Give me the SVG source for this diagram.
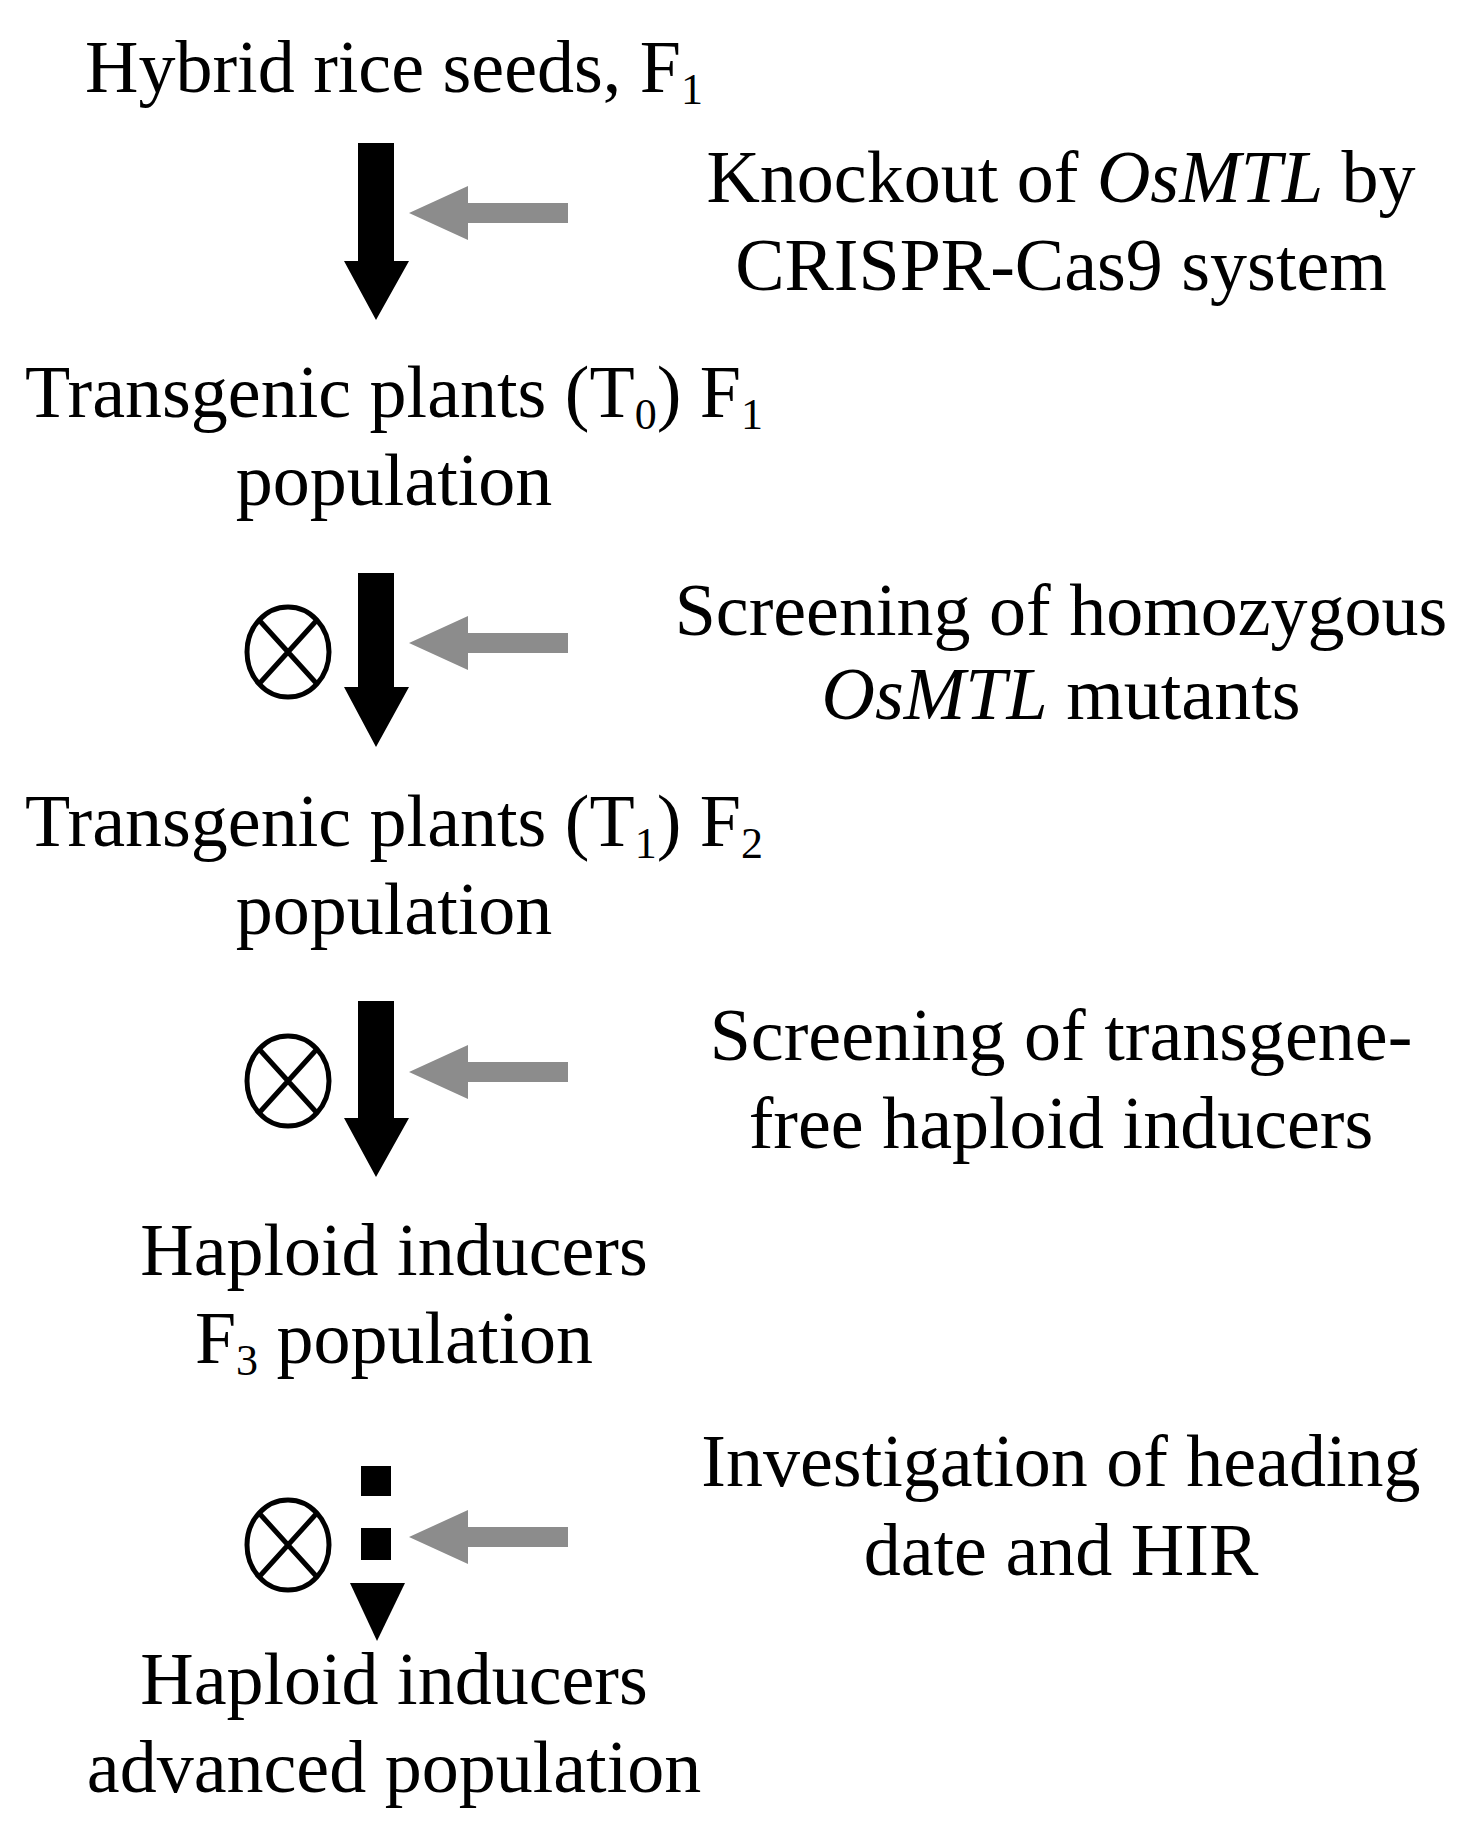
<svg xmlns="http://www.w3.org/2000/svg" width="1463" height="1827" viewBox="0 0 1463 1827">
<style>
text{font-family:"Liberation Serif","Times New Roman",serif;font-size:74px;fill:#000;text-anchor:middle}
.s{font-size:44px}
.g{fill:#8c8c8c}
.c{fill:none;stroke:#000;stroke-width:5}
</style>
<rect width="1463" height="1827" fill="#fff"/>
<g id="n1"><text x="394" y="92">Hybrid rice seeds, F<tspan class="s" dy="12">1</tspan></text></g>
<g id="n2"><text x="394" y="417">Transgenic plants (T<tspan class="s" dy="12">0</tspan><tspan dy="-12">) F</tspan><tspan class="s" dy="12">1</tspan></text><text x="394" y="505">population</text></g>
<g id="n3"><text x="394" y="846">Transgenic plants (T<tspan class="s" dy="12">1</tspan><tspan dy="-12">) F</tspan><tspan class="s" dy="12">2</tspan></text><text x="394" y="934">population</text></g>
<g id="n4"><text x="394" y="1275">Haploid inducers</text><text x="394" y="1363">F<tspan class="s" dy="12">3</tspan><tspan dy="-12"> population</tspan></text></g>
<g id="n5"><text x="394" y="1704">Haploid inducers</text><text x="394" y="1792">advanced population</text></g>
<g id="l1"><text x="1061" y="202">Knockout of <tspan font-style="italic">OsMTL</tspan> by</text><text x="1061" y="290">CRISPR-Cas9 system</text></g>
<g id="l2"><text x="1061" y="635">Screening of homozygous</text><text x="1061" y="719"><tspan font-style="italic">OsMTL</tspan> mutants</text></g>
<g id="l3"><text x="1061" y="1060">Screening of transgene-</text><text x="1061" y="1148">free haploid inducers</text></g>
<g id="l4"><text x="1061" y="1486">Investigation of heading</text><text x="1061" y="1575">date and HIR</text></g>
<g id="connectors">
<path d="M358 143H394V261H409L376 320L344 261H358Z"/>
<path d="M358 573H394V687H409L376 747L344 687H358Z"/>
<path d="M358 1001H394V1118H409L376 1177L344 1118H358Z"/>
<rect x="361" y="1466" width="30" height="30"/>
<rect x="361" y="1528" width="30" height="32"/>
<path d="M350 1583H405L377 1641Z"/>
<path class="g" d="M568 203V223H468V240L409 213L468 186V203Z"/>
<path class="g" d="M568 633V653H468V670L409 643L468 616V633Z"/>
<path class="g" d="M568 1062V1082H468V1099L409 1072L468 1045V1062Z"/>
<path class="g" d="M568 1527V1547H468V1564L409 1537L468 1510V1527Z"/>
</g>
<g id="x1"><ellipse class="c" cx="288" cy="652" rx="41" ry="45"/><path class="c" d="M259 620L317 684M317 620L259 684"/></g>
<g id="x2"><ellipse class="c" cx="288" cy="1081" rx="41" ry="45"/><path class="c" d="M259 1049L317 1113M317 1049L259 1113"/></g>
<g id="x3"><ellipse class="c" cx="288" cy="1545" rx="41" ry="45"/><path class="c" d="M259 1513L317 1577M317 1513L259 1577"/></g>
</svg>
